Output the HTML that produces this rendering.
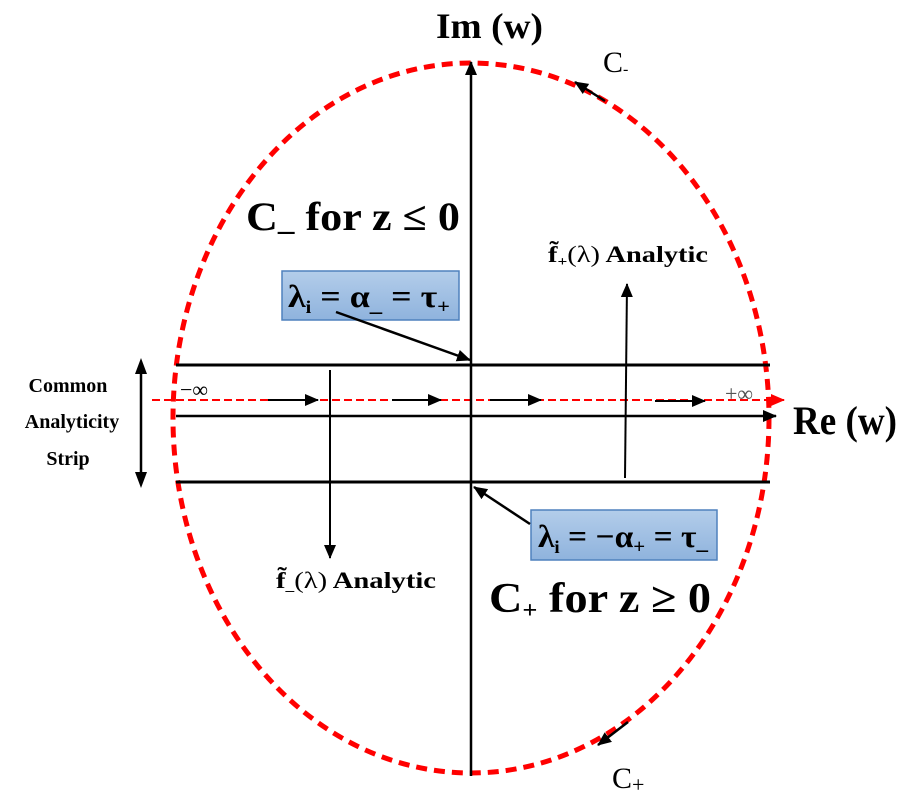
<!DOCTYPE html>
<html><head><meta charset="utf-8"><style>
html,body{margin:0;padding:0;background:#fff;}
svg{display:block;}
text{font-family:"Liberation Serif",serif;font-weight:bold;fill:#000;}
</style></head><body>
<svg width="900" height="800" viewBox="0 0 900 800" xmlns="http://www.w3.org/2000/svg">
<defs>
<marker id="ahs" markerWidth="14" markerHeight="12" refX="13" refY="6" orient="auto" markerUnits="userSpaceOnUse">
<path d="M0,0 L14,6 L0,12 z" fill="#000"/></marker>
<marker id="ahr" markerWidth="14" markerHeight="12" refX="13" refY="6" orient="auto" markerUnits="userSpaceOnUse">
<path d="M0,0 L14,6 L0,12 z" fill="#f00"/></marker>
<linearGradient id="bg" x1="0" y1="0" x2="0" y2="1"><stop offset="0" stop-color="#b3cdea"/><stop offset="1" stop-color="#8fb3dd"/></linearGradient>
</defs>
<ellipse cx="471" cy="418" rx="298" ry="355" fill="none" stroke="#f00" stroke-width="5" stroke-dasharray="11,7"/>
<line x1="176" y1="365" x2="770" y2="365" stroke="#000" stroke-width="3"/>
<line x1="176" y1="482" x2="770" y2="482" stroke="#000" stroke-width="3"/>
<line x1="176" y1="416" x2="776" y2="416" stroke="#000" stroke-width="2.5" marker-end="url(#ahs)"/>
<line x1="152" y1="400" x2="784" y2="400" stroke="#f00" stroke-width="2" stroke-dasharray="8,4" marker-end="url(#ahr)"/>
<line x1="268" y1="400" x2="318" y2="400" stroke="#000" stroke-width="2" marker-end="url(#ahs)"/>
<line x1="392" y1="400" x2="441" y2="400" stroke="#000" stroke-width="2" marker-end="url(#ahs)"/>
<line x1="490" y1="400" x2="541" y2="400" stroke="#000" stroke-width="2" marker-end="url(#ahs)"/>
<line x1="655" y1="401" x2="705" y2="401" stroke="#000" stroke-width="2" marker-end="url(#ahs)"/>
<line x1="471" y1="776" x2="471" y2="62" stroke="#000" stroke-width="2.5" marker-end="url(#ahs)"/>
<line x1="330" y1="370" x2="330" y2="558" stroke="#000" stroke-width="2" marker-end="url(#ahs)"/>
<line x1="625" y1="478" x2="627" y2="284" stroke="#000" stroke-width="2" marker-end="url(#ahs)"/>
<line x1="141" y1="372" x2="141" y2="474" stroke="#000" stroke-width="2.5"/>
<path d="M141,358 L135,374 L147,374 z" fill="#000"/>
<path d="M141,488 L135,472 L147,472 z" fill="#000"/>
<rect x="282" y="271" width="177" height="49" fill="url(#bg)" stroke="#4f81bd" stroke-width="1.5"/>
<rect x="531" y="510" width="186" height="50" fill="url(#bg)" stroke="#4f81bd" stroke-width="1.5"/>
<line x1="336" y1="312" x2="470" y2="360" stroke="#000" stroke-width="2.5" marker-end="url(#ahs)"/>
<line x1="530" y1="524" x2="474" y2="487" stroke="#000" stroke-width="2.5" marker-end="url(#ahs)"/>
<line x1="605" y1="101" x2="575" y2="82" stroke="#000" stroke-width="2.5" marker-end="url(#ahs)"/>
<line x1="628" y1="722" x2="598" y2="745" stroke="#000" stroke-width="2.5" marker-end="url(#ahs)"/>
<text x="436" y="38" font-size="36" textLength="107" lengthAdjust="spacingAndGlyphs">Im (w)</text>
<text x="793" y="434" font-size="40" textLength="104" lengthAdjust="spacingAndGlyphs">Re (w)</text>
<text x="603" y="72" font-size="30" style="font-weight:normal">C<tspan font-size="16" dy="2">-</tspan></text>
<text x="612" y="788" font-size="30" style="font-weight:normal">C<tspan font-size="22" dy="4">+</tspan></text>
<text x="246" y="230" font-size="40" textLength="214" lengthAdjust="spacingAndGlyphs">C<tspan font-size="30">_</tspan> for  z ≤ 0</text>
<text x="489" y="612" font-size="42" textLength="222" lengthAdjust="spacingAndGlyphs">C<tspan font-size="24" dy="6">+</tspan><tspan dy="-6"> for  z ≥ 0</tspan></text>
<text x="288" y="307" font-size="32" textLength="162" lengthAdjust="spacingAndGlyphs">λ<tspan font-size="18" dy="6">i</tspan><tspan dy="-6"> = α</tspan><tspan font-size="22" dy="4">_</tspan><tspan dy="-4"> = τ</tspan><tspan font-size="20" dy="6">+</tspan></text>
<text x="538" y="547" font-size="32" textLength="170" lengthAdjust="spacingAndGlyphs">λ<tspan font-size="18" dy="6">i</tspan><tspan dy="-6"> = −α</tspan><tspan font-size="20" dy="6">+</tspan><tspan dy="-6"> = τ</tspan><tspan font-size="22" dy="2">_</tspan></text>
<text x="548" y="262" font-size="23" textLength="160" lengthAdjust="spacingAndGlyphs">f̃<tspan font-size="14" dy="4">+</tspan><tspan dy="-4" style="font-weight:normal">(λ)</tspan> Analytic</text>
<text x="276" y="588" font-size="23" textLength="160" lengthAdjust="spacingAndGlyphs">f̃<tspan font-size="14" dy="2">_</tspan><tspan dy="-2" style="font-weight:normal">(λ)</tspan> Analytic</text>
<text x="180" y="397" font-size="22" style="font-weight:normal">−∞</text>
<text x="725" y="401" font-size="22" style="font-weight:normal;fill:#555">+∞</text>
<text x="68" y="392" font-size="20" text-anchor="middle">Common</text>
<text x="72" y="428" font-size="20" text-anchor="middle">Analyticity</text>
<text x="68" y="465" font-size="20" text-anchor="middle">Strip</text>
</svg>
</body></html>
